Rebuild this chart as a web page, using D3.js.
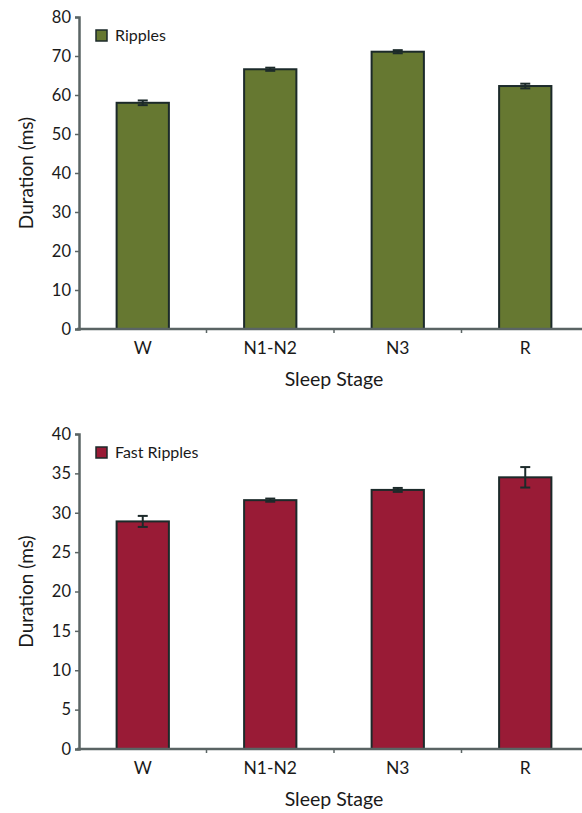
<!DOCTYPE html>
<html>
<head>
<meta charset="utf-8">
<script src="https://cdn.jsdelivr.net/npm/d3@7"></script>
<style>
  body { margin: 0; background: #fff; }
  text { font-family: Lato, "Open Sans", sans-serif; fill: #1a1a1a; }
</style>
</head>
<body>
<svg id="canvas"></svg>
<script>
let stages = ["W", "N1-N2", "N3", "R"];

let rippleValues = [58.0, 66.6, 71.1, 62.3];
let rippleErrors = [0.6, 0.4, 0.4, 0.6];
let rippleTicks = [0, 10, 20, 30, 40, 50, 60, 70, 80];

let fastValues = [28.9, 31.6, 32.9, 34.5];
let fastErrors = [0.7, 0.2, 0.25, 1.3];
let fastTicks = [0, 5, 10, 15, 20, 25, 30, 35, 40];

let width = 582;
let height = 813;

let canvas = d3.select("#canvas")
canvas.attr("width", width);
canvas.attr("height", height);

let xScale = d3.scaleBand()
               .domain(stages)
               .range([79, 589])
               .paddingInner(0.59)
               .paddingOuter(0.295);

let drawPanel = (values, errors, ticks, top, bottom, color, label) => {
    let yScale = d3.scaleLinear()
                   .domain([0, d3.max(ticks)])
                   .range([bottom, top]);

    let g = canvas.append("g");

    // bars
    g.selectAll("rect.bar")
     .data(values)
     .enter()
     .append("rect")
     .attr("class", "bar")
     .attr("x", (d, i) => xScale(stages[i]))
     .attr("width", xScale.bandwidth())
     .attr("y", (d) => yScale(d))
     .attr("height", (d) => yScale(0) - yScale(d))
     .attr("fill", color)
     .attr("stroke", "#1c2a2a")
     .attr("stroke-width", 2);

    // error bars
    let err = g.selectAll("g.err")
               .data(values)
               .enter()
               .append("g")
               .attr("class", "err")
               .attr("stroke", "#1c2a2a")
               .attr("stroke-width", 2);
    let cx = (i) => xScale(stages[i]) + xScale.bandwidth() / 2;
    err.append("line")
       .attr("x1", (d, i) => cx(i)).attr("x2", (d, i) => cx(i))
       .attr("y1", (d, i) => yScale(d - errors[i]))
       .attr("y2", (d, i) => yScale(d + errors[i]));
    [-1, 1].forEach((s) => {
      err.append("line")
         .attr("x1", (d, i) => cx(i) - 5).attr("x2", (d, i) => cx(i) + 5)
         .attr("y1", (d, i) => yScale(d + s * errors[i]))
         .attr("y2", (d, i) => yScale(d + s * errors[i]));
    });

    // axes
    let yAxis = d3.axisLeft(yScale)
                  .tickValues(ticks)
                  .tickSize(4)
                  .tickPadding(4)
                  .tickFormat(d3.format("d"));
    let ya = g.append("g")
              .attr("transform", "translate(79, 0)")
              .call(yAxis);
    ya.select(".domain").attr("stroke", "#5a6464").attr("stroke-width", 2.5);
    ya.selectAll(".tick line").attr("stroke", "#5a6464").attr("stroke-width", 1.5);
    ya.selectAll(".tick text").attr("font-size", 16.5).attr("fill", "#1a1a1a");

    let xa = g.append("g")
              .attr("transform", "translate(0, " + bottom + ")");
    xa.append("line")
      .attr("x1", 77).attr("x2", 589)
      .attr("stroke", "#5a6464").attr("stroke-width", 2.5);
    xa.selectAll("line.sep")
      .data(stages.slice(1))
      .enter()
      .append("line")
      .attr("class", "sep")
      .attr("x1", (d) => xScale(d) - xScale.step() * xScale.paddingInner() / 2)
      .attr("x2", (d) => xScale(d) - xScale.step() * xScale.paddingInner() / 2)
      .attr("y1", 0).attr("y2", 4)
      .attr("stroke", "#5a6464").attr("stroke-width", 1.5);
    xa.selectAll("text")
      .data(stages)
      .enter()
      .append("text")
      .attr("x", (d) => xScale(d) + xScale.bandwidth() / 2)
      .attr("y", 25)
      .attr("text-anchor", "middle")
      .attr("font-size", 17.5)
      .text((d) => d);

    g.append("text")
     .attr("x", 334)
     .attr("y", bottom + 57)
     .attr("text-anchor", "middle")
     .attr("font-size", 19.5)
     .text("Sleep Stage");

    g.append("text")
     .attr("transform", "translate(33, " + ((top + bottom) / 2) + ") rotate(-90)")
     .attr("text-anchor", "middle")
     .attr("font-size", 19)
     .text("Duration (ms)");

    // legend
    g.append("rect")
     .attr("x", 96).attr("y", top + 13)
     .attr("width", 11).attr("height", 11)
     .attr("fill", color)
     .attr("stroke", "#1c2a2a").attr("stroke-width", 1.5);
    g.append("text")
     .attr("x", 115).attr("y", top + 24)
     .attr("font-size", 16)
     .text(label);
}

drawPanel(rippleValues, rippleErrors, rippleTicks, 17, 329, "#667831", "Ripples");
drawPanel(fastValues, fastErrors, fastTicks, 434, 749, "#991b36", "Fast Ripples");
</script>
</body>
</html>
